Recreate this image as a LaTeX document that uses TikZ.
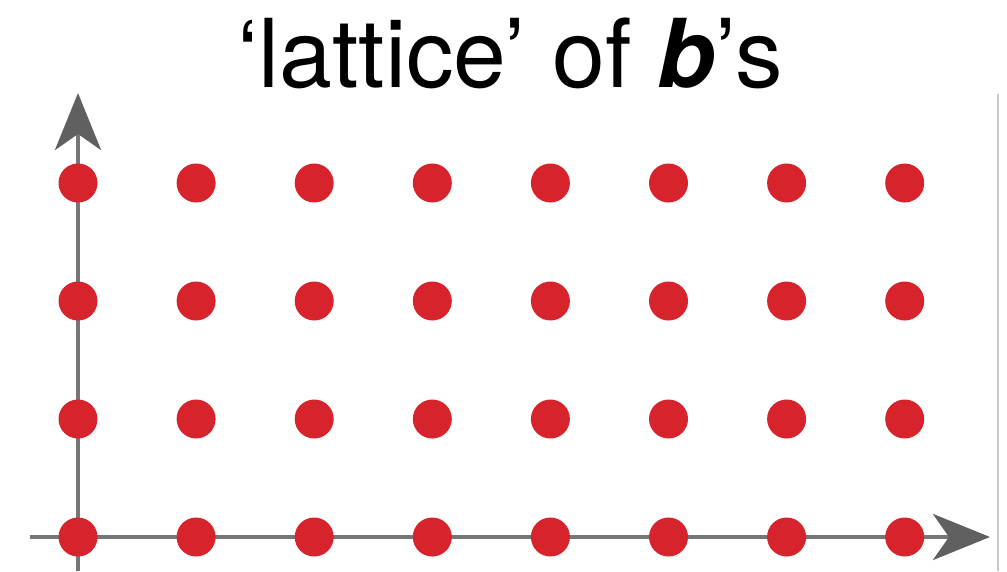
\documentclass[tikz,border=0pt]{standalone}
\usepackage{fontspec}
\setmainfont{TeX Gyre Heros}
\usetikzlibrary{arrows.meta}
\definecolor{dotred}{RGB}{215,36,44}
\definecolor{axisgray}{RGB}{118,118,118}
\definecolor{tipgray}{RGB}{96,96,96}
\definecolor{edgegray}{RGB}{200,200,200}
\begin{document}
\begin{tikzpicture}[x=1pt,y=-1pt,
  latdot/.style={circle,fill=dotred,inner sep=0pt,minimum size=39pt},
  axisline/.style={draw=axisgray,line width=4.5pt,
    -{Stealth[length=57pt,width=46pt,inset=16pt,color=tipgray]}},
  titletext/.style={font=\fontsize{95}{100}\selectfont,inner sep=0pt,anchor=base}]
\useasboundingbox (0,0) rectangle (1007,571);
\fill[white] (0,0) rectangle (1007,571);
% right edge thin line
\coordinate (e1) at (998,94);
\coordinate (e2) at (998,571);
\draw[edgegray,line width=1.5pt] (e1) -- (e2);
% axes
\coordinate (vbot) at (78,571);
\coordinate (vtop) at (78,93);
\coordinate (hleft) at (30,537);
\coordinate (hright) at (990,537);
\draw[axisline] (vbot) -- (vtop);
\draw[axisline] (hleft) -- (hright);
% dots
\foreach \i in {0,...,7} {
  \foreach \j in {0,...,3} {
    \node[latdot] (d\i\j) at ({78+118.1*\i},{183+118*\j}) {};
  }
}
% title
\node[titletext] (title) at (510,87) {‘lattice’ of \textbf{\textit{b}}’s};
\end{tikzpicture}
\end{document}
